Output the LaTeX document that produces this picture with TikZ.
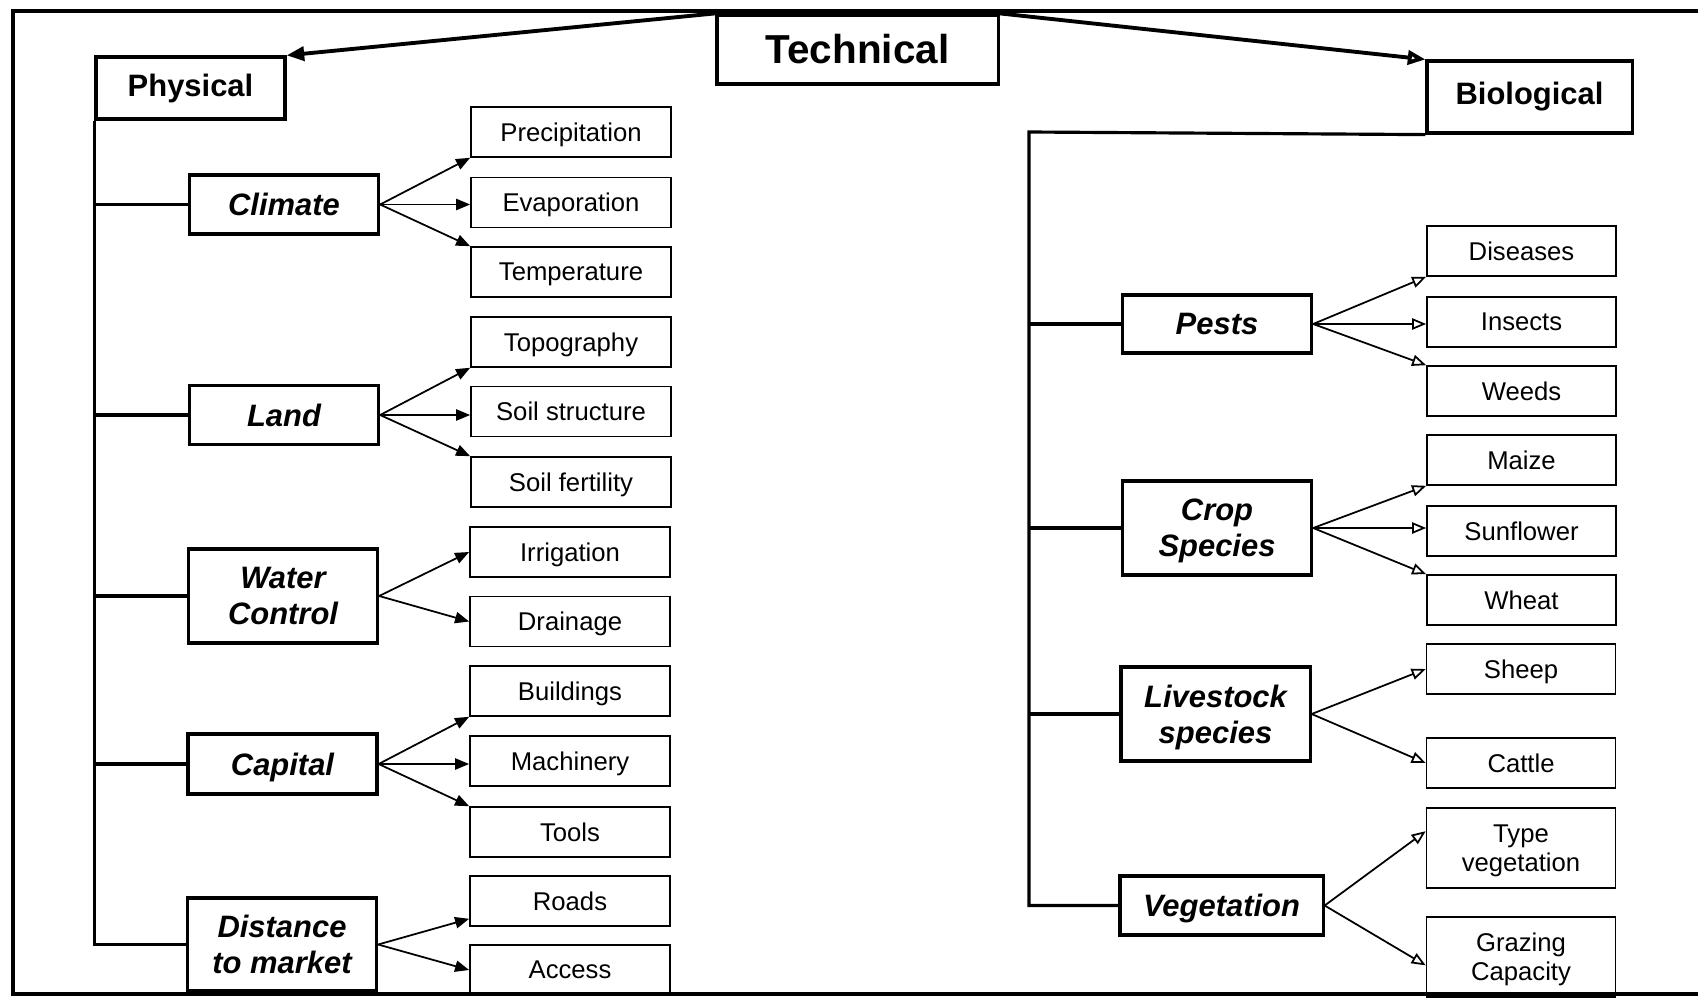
\documentclass[tikz,border=0pt]{standalone}
\usepackage{fontspec}
\setmainfont{Liberation Sans}
\usetikzlibrary{arrows.meta}

\tikzset{
  topbox/.style={draw,line width=0.9pt,inner sep=0pt,font=\fontsize{8.8}{10}\selectfont\bfseries},
  midbox/.style={draw,line width=0.9pt,inner sep=0pt,text depth=0pt,minimum width=1.89cm,align=center,font=\fontsize{8.8}{10.2}\selectfont\bfseries\itshape},
  leafbox/.style={draw,line width=0.45pt,inner sep=0pt,text depth=0pt,minimum height=0.5cm,align=center,font=\fontsize{7.3}{8.3}\selectfont},
  trunk/.style={line width=0.9pt},
  lftarrow/.style={line width=0.5pt,-{Triangle[length=4pt,width=3.2pt]}},
  rgtarrow/.style={line width=0.5pt,-{Triangle[open,length=4pt,width=3.2pt]}},
}

\begin{document}
\begin{tikzpicture}[x=0.01cm,y=-0.01cm]
\useasboundingbox (0,0) rectangle (1698,997);
%\draw[step=50,gray,very thin] (0,0) grid (1698,997); %background grid

% frame
\draw[line width=1pt] (1698,11) -- (13,11) -- (13,994) -- (1698,994);

% top level
\node[topbox,minimum width=2.81cm,minimum height=0.69cm,font=\fontsize{11.5}{13}\selectfont\bfseries] (tech) at (857.5,49.5) {Technical};
\node[topbox,minimum width=1.89cm,minimum height=0.62cm] (phys) at (190.5,88) {Physical};
\node[topbox,minimum width=2.05cm,minimum height=0.72cm] (bio) at (1529.5,97) {Biological};

\draw[line width=1.1pt,-{Triangle[length=5pt,width=4pt]}] (tech.north west) -- (phys.north east);
\draw[line width=1.1pt,-{Triangle[open,length=5pt,width=4pt]}] (tech.north east) -- (bio.north west);

% physical side
\node[midbox,minimum height=0.59cm] (clim) at (284,204.5) {Climate};
\node[midbox,minimum height=0.59cm] (land) at (284,415) {Land};
\node[midbox,minimum height=0.94cm] (water) at (283,596) {Water\\Control};
\node[midbox,minimum height=0.60cm] (cap) at (282.5,764) {Capital};
\node[midbox,minimum height=0.93cm] (dist) at (282,944.5) {Distance\\to market};

\draw[trunk] (phys.south west) |- (dist.west);
\draw[trunk] (phys.south west |- clim.west) -- (clim.west);
\draw[trunk] (phys.south west |- land.west) -- (land.west);
\draw[trunk] (phys.south west |- water.west) -- (water.west);
\draw[trunk] (phys.south west |- cap.west) -- (cap.west);

\node[leafbox,minimum width=2cm] (prec) at (571,132) {Precipitation};
\node[leafbox,minimum width=2cm] (evap) at (571,202.5) {Evaporation};
\node[leafbox,minimum width=2cm] (temp) at (571,272) {Temperature};
\node[leafbox,minimum width=2cm] (topo) at (571,342) {Topography};
\node[leafbox,minimum width=2cm] (sstr) at (571,411.5) {Soil structure};
\node[leafbox,minimum width=2cm] (sfer) at (571,482) {Soil fertility};
\node[leafbox,minimum width=2cm] (irr) at (570,552) {Irrigation};
\node[leafbox,minimum width=2cm] (drain) at (570,621.5) {Drainage};
\node[leafbox,minimum width=2cm] (build) at (570,691) {Buildings};
\node[leafbox,minimum width=2cm] (mach) at (570,761) {Machinery};
\node[leafbox,minimum width=2cm] (tools) at (570,832) {Tools};
\node[leafbox,minimum width=2cm] (roads) at (570,901) {Roads};
\node[leafbox,minimum width=2cm] (access) at (570,970) {Access};

\draw[lftarrow] (clim.east) -- (prec.south west);
\draw[lftarrow] (clim.east) -- (clim.east -| evap.west);
\draw[lftarrow] (clim.east) -- (temp.north west);
\draw[lftarrow] (land.east) -- (topo.south west);
\draw[lftarrow] (land.east) -- (land.east -| sstr.west);
\draw[lftarrow] (land.east) -- (sfer.north west);
\draw[lftarrow] (water.east) -- (irr.west);
\draw[lftarrow] (water.east) -- (drain.west);
\draw[lftarrow] (cap.east) -- (build.south west);
\draw[lftarrow] (cap.east) -- (cap.east -| mach.west);
\draw[lftarrow] (cap.east) -- (tools.north west);
\draw[lftarrow] (dist.east) -- (roads.190);
\draw[lftarrow] (dist.east) -- (access.west);

% biological side
\node[midbox,minimum height=0.58cm] (pest) at (1217,324) {Pests};
\node[midbox,minimum height=0.94cm] (crop) at (1217,528) {Crop\\Species};
\node[midbox,minimum height=0.94cm] (live) at (1215.5,714) {Livestock\\species};
\node[midbox,minimum width=2.03cm,minimum height=0.59cm] (veg) at (1221.5,905.5) {Vegetation};

\coordinate (rtop) at (1029,132);
\draw[trunk] (bio.south west) -- (rtop) |- (veg.west);
\draw[trunk] (rtop |- pest.west) -- (pest.west);
\draw[trunk] (rtop |- crop.west) -- (crop.west);
\draw[trunk] (rtop |- live.west) -- (live.west);

\node[leafbox,minimum width=1.89cm] (dis) at (1521.5,251) {Diseases};
\node[leafbox,minimum width=1.89cm] (ins) at (1521.5,322) {Insects};
\node[leafbox,minimum width=1.89cm] (weed) at (1521.5,391) {Weeds};
\node[leafbox,minimum width=1.89cm] (maize) at (1521.5,460) {Maize};
\node[leafbox,minimum width=1.89cm] (sun) at (1521.5,531) {Sunflower};
\node[leafbox,minimum width=1.89cm] (wheat) at (1521.5,600) {Wheat};
\node[leafbox,minimum width=1.89cm] (sheep) at (1521,669) {Sheep};
\node[leafbox,minimum width=1.89cm] (cattle) at (1521,763) {Cattle};
\node[leafbox,minimum width=1.89cm,minimum height=0.80cm] (typev) at (1521,848) {Type\\vegetation};
\node[leafbox,minimum width=1.89cm,minimum height=0.80cm] (graz) at (1521,957) {Grazing\\Capacity};

\draw[rgtarrow] (pest.east) -- (dis.south west);
\draw[rgtarrow] (pest.east) -- (pest.east -| ins.west);
\draw[rgtarrow] (pest.east) -- (weed.north west);
\draw[rgtarrow] (crop.east) -- (maize.south west);
\draw[rgtarrow] (crop.east) -- (crop.east -| sun.west);
\draw[rgtarrow] (crop.east) -- (wheat.north west);
\draw[rgtarrow] (live.east) -- (sheep.west);
\draw[rgtarrow] (live.east) -- (cattle.west);
\draw[rgtarrow] (veg.east) -- (typev.170);
\draw[rgtarrow] (veg.east) -- (graz.185);

\end{tikzpicture}
\end{document}
